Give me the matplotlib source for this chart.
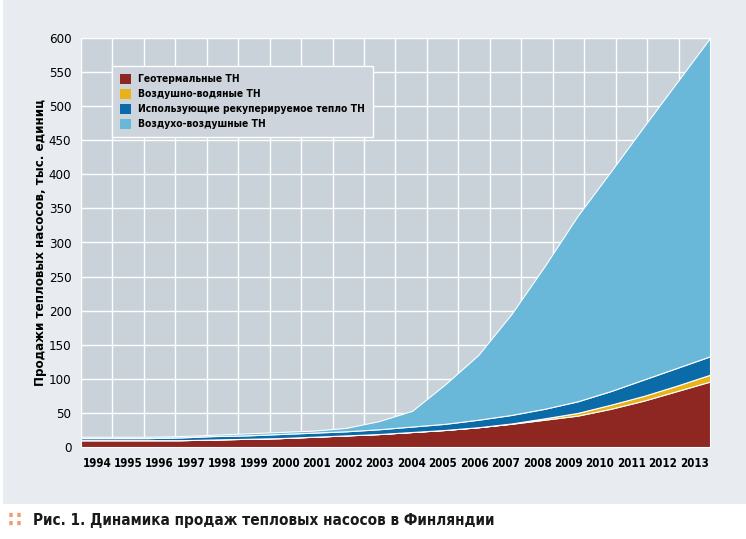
import matplotlib as mpl
import matplotlib.pyplot as plt
import numpy as np
from matplotlib.patches import Rectangle

mpl.rcParams['font.family'] = ['DejaVu Sans']
mpl.rcParams['font.stretch'] = 'condensed'

years = ['1994', '1995', '1996', '1997', '1998', '1999', '2000', '2001', '2002', '2003',
         '2004', '2005', '2006', '2007', '2008', '2009', '2010', '2011', '2012', '2013']
# тыс. единиц
geo = [10, 10, 10, 10, 11, 12, 13, 15, 17, 19, 22, 25, 29, 34, 40, 46, 56, 68, 82, 96]
air_water = [0, 0, 0, 0, 0, 0, 0, 0, 0, 0, 0, 0, 0, 0.5, 2, 4, 6, 7, 8, 10]
exhaust = [3, 3, 3, 4, 5, 5, 6, 6, 6, 7, 8, 9, 11, 12.5, 14, 17, 20, 24, 26, 27]
air_air = [2, 2, 2, 2, 2, 3, 3, 3, 5, 12, 23, 58, 95, 148, 209, 272, 322, 371, 419, 467]

labels = ['Геотермальные ТН', 'Воздушно-водяные ТН',
          'Использующие рекуперируемое тепло ТН', 'Воздухо-воздушные ТН']
colors = ['#8e2622', '#e9b216', '#0b6aa8', '#69b7d9']

fig = plt.figure(figsize=(7.46, 5.39), dpi=100)
fig.patch.set_facecolor('white')
# light panel behind the chart
fig.patches.append(Rectangle((0.004, 1 - 504 / 539), 0.996, 504 / 539,
                             transform=fig.transFigure, facecolor='#e8ecf0',
                             edgecolor='none', zorder=-5))

ax = fig.add_axes([81 / 746, 1 - 447 / 539, 629 / 746, 409 / 539])
ax.set_facecolor('#c9d1d9')

x = np.arange(len(years))
n = len(years) - 1
polys = ax.stackplot(x, geo, air_water, exhaust, air_air, colors=colors,
                     labels=labels, edgecolor='white', linewidth=0.8, zorder=3)

ax.set_xlim(0, n)
ax.set_ylim(0, 600)
# grid: 20 equal cells, labels at cell centres
cell = n / len(years)
ax.set_xticks([cell * (i + 0.5) for i in range(len(years))])
ax.set_xticklabels(years, fontsize=8.3, fontweight='bold')
ax.set_xticks([cell * i for i in range(len(years) + 1)], minor=True)
ax.set_yticks(np.arange(0, 601, 50))
ax.tick_params(axis='y', labelsize=9.5, length=0, pad=7)
ax.tick_params(axis='x', which='both', length=0, pad=7)
ax.grid(True, which='minor', axis='x', color='white', linewidth=1.0, zorder=1)
ax.grid(True, which='major', axis='y', color='white', linewidth=1.0, zorder=1)
for s in ax.spines.values():
    s.set_visible(False)

ax.set_ylabel('Продажи тепловых насосов, тыс. единиц', fontsize=9.5,
              fontweight='bold', labelpad=1)

leg = ax.legend(loc='upper left', bbox_to_anchor=(0.049, 0.9315), frameon=True,
                prop={'weight': 'bold', 'size': 7.4, 'stretch': 'condensed'},
                handlelength=1.1, handleheight=1.1, handletextpad=0.7,
                labelspacing=0.45, borderpad=0.75, borderaxespad=0,
                fancybox=False)
leg.get_frame().set_facecolor('#cdd4db')
leg.get_frame().set_edgecolor('white')
leg.get_frame().set_linewidth(1.0)
leg.get_frame().set_alpha(1)
for h in leg.legend_handles:
    h.set_edgecolor('none')

fig.text(8 / 746, 1 - 521 / 539, '∷', color='#f0a070', fontsize=16,
         fontweight='bold', va='center')
fig.text(33 / 746, 1 - 521 / 539, 'Рис. 1. Динамика продаж тепловых насосов в Финляндии',
         fontsize=11, fontweight='bold', va='center', color='#1a1a1a')

plt.savefig('out.png', dpi=100)
